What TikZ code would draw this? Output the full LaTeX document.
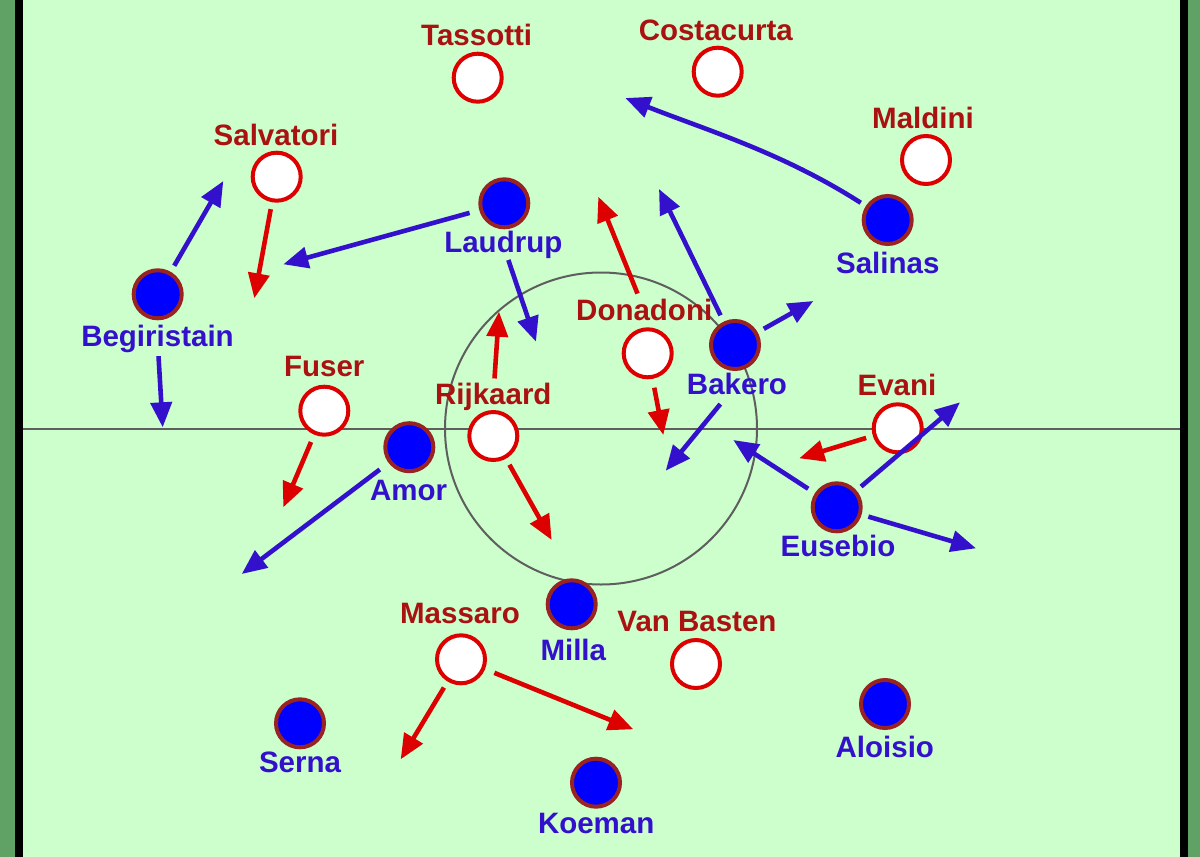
\documentclass[tikz,border=0pt]{standalone}
\usepackage{fontspec}
\setmainfont{Liberation Sans}
\usetikzlibrary{arrows.meta}
\definecolor{field}{HTML}{CCFFCC}
\definecolor{sidegreen}{HTML}{60A266}
\definecolor{midline}{HTML}{5E5E5E}
\definecolor{redstroke}{HTML}{DD0000}
\definecolor{redlabel}{HTML}{AA1111}
\definecolor{bluefill}{HTML}{0000FF}
\definecolor{bluestroke}{HTML}{992222}
\definecolor{bluelabel}{HTML}{3311CC}
\tikzset{
  redp/.style={circle,draw=redstroke,fill=white,line width=4pt,minimum size=48pt,inner sep=0pt},
  bluep/.style={circle,draw=bluestroke,fill=bluefill,line width=4pt,minimum size=48pt,inner sep=0pt},
  lab/.style={anchor=base,inner sep=0pt,font=\fontsize{29.5}{32}\selectfont\bfseries},
  redlab/.style={lab,text=redlabel},
  bluelab/.style={lab,text=bluelabel},
  arr/.style={line width=4.6pt,-{Triangle[length=25pt,width=21pt]},shorten <=7pt},
  rarrow/.style={arr,draw=redstroke},
  barrow/.style={arr,draw=bluelabel},
}
\begin{document}
\begin{tikzpicture}[x=1pt,y=-1pt]
\useasboundingbox (0,0) rectangle (1200,857);
\fill[field] (0,0) rectangle (1200,857);
\fill[sidegreen] (0,0) rectangle (15,857);
\fill[black] (15,0) rectangle (23,857);
\fill[black] (1180,0) rectangle (1188,857);
\fill[sidegreen] (1188,0) rectangle (1200,857);
\draw[midline,line width=2pt] (23,428.5) -- (1180,428.5);
\draw[midline,line width=2pt] (601,428.5) circle[radius=156pt];

% red team
\node[redp] (tas) at (477.7,77.7) {};
\node[redlab] (tasL) at (476.7,45.7) {Tassotti};
\node[redp] (cos) at (717.7,71.7) {};
\node[redlab] (cosL) at (715.8,40.7) {Costacurta};
\node[redp] (salv) at (276.7,176.7) {};
\node[redlab] (salvL) at (276,145.7) {Salvatori};
\node[redp] (mal) at (926,160) {};
\node[redlab] (malL) at (923,128.3) {Maldini};
\node[redp] (don) at (647.7,353.3) {};
\node[redlab] (donL) at (644.2,320.7) {Donadoni};
\node[redp] (fus) at (324.3,410.7) {};
\node[redlab] (fusL) at (324.3,376.7) {Fuser};
\node[redp] (rij) at (493.3,436) {};
\node[redlab] (rijL) at (493.3,404) {Rijkaard};
\node[redp] (eva) at (897.7,428.3) {};
\node[redlab] (evaL) at (897,395) {Evani};
\node[redp] (mas) at (461,659.3) {};
\node[redlab] (masL) at (460,623.3) {Massaro};
\node[redp] (van) at (696,664) {};
\node[redlab] (vanL) at (697,631.7) {Van Basten};

% blue team
\node[bluep] (lau) at (504.3,203.3) {};
\node[bluelab] (lauL) at (503.3,252.7) {Laudrup};
\node[bluep] (beg) at (157.7,294.3) {};
\node[bluelab] (begL) at (157.5,346.7) {Begiristain};
\node[bluep] (sal) at (887.7,220) {};
\node[bluelab] (salL) at (887.8,273.3) {Salinas};
\node[bluep] (bak) at (735,345) {};
\node[bluelab] (bakL) at (737,394.3) {Bakero};
\node[bluep] (amo) at (409.3,447.2) {};
\node[bluelab] (amoL) at (408.7,500) {Amor};
\node[bluep] (eus) at (836.7,507.3) {};
\node[bluelab] (eusL) at (838,556.7) {Eusebio};
\node[bluep] (mil) at (571.7,604.3) {};
\node[bluelab] (milL) at (573.3,660.7) {Milla};
\node[bluep] (ser) at (300,723.3) {};
\node[bluelab] (serL) at (300,772.7) {Serna};
\node[bluep] (alo) at (885,704) {};
\node[bluelab] (aloL) at (884.8,757.3) {Aloisio};
\node[bluep] (koe) at (596,782.7) {};
\node[bluelab] (koeL) at (596.2,833.3) {Koeman};

% arrow end points
\coordinate (tBegUp) at (223.3,181);
\coordinate (tBegDown) at (162.7,427.3);
\coordinate (tSalv) at (254.3,298.3);
\coordinate (tLauLeft) at (283.3,264.3);
\coordinate (tLauDown) at (536,341.7);
\coordinate (tRijUp) at (499,311.7);
\coordinate (tDonUp) at (598.3,196.7);
\coordinate (tDonDown) at (663.3,435);
\coordinate (tBakUp) at (659,189);
\coordinate (tBakRight) at (813.3,301);
\coordinate (tBakDown) at (665.7,470.7);
\coordinate (tSal) at (625.3,98);
\coordinate (tEva) at (799.3,458.3);
\coordinate (tEusUp) at (960,402.3);
\coordinate (tEusRight) at (976,548.3);
\coordinate (tEusLeft) at (733.3,440);
\coordinate (tFus) at (283.3,507.3);
\coordinate (tAmo) at (241.7,574);
\coordinate (tRijDown) at (551.7,540);
\coordinate (tMasLeft) at (400.7,759.3);
\coordinate (tMasRight) at (633.3,729.3);

% red arrows
\draw[rarrow] (salv) -- (tSalv);
\draw[rarrow,shorten <=4pt] (rijL) -- (tRijUp);
\draw[rarrow,shorten <=6pt] (donL) -- (tDonUp);
\draw[rarrow,shorten <=9pt] (don) -- (tDonDown);
\draw[rarrow] (eva) -- (tEva);
\draw[rarrow,shorten <=8pt] (fus) -- (tFus);
\draw[rarrow] (rij) -- (tRijDown);
\draw[rarrow] (mas) -- (tMasLeft);
\draw[rarrow,shorten <=10pt] (mas) -- (tMasRight);

% blue arrows
\draw[barrow] (beg) -- (tBegUp);
\draw[barrow,shorten <=3pt] (begL) -- (tBegDown);
\draw[barrow,shorten <=10pt] (lau) -- (tLauLeft);
\draw[barrow,shorten <=1pt] (lauL) -- (tLauDown);
\draw[barrow] (bak) -- (tBakUp);
\draw[barrow] (bak) -- (tBakRight);
\draw[barrow,shorten <=12pt] (bakL) -- (tBakDown);
\draw[barrow,shorten <=6pt] (sal) .. controls (782,152.4) and (706,130) .. (tSal);
\draw[barrow,shorten <=6pt] (eus) -- (tEusUp);
\draw[barrow] (eus) -- (tEusRight);
\draw[barrow,shorten <=8pt] (eus) -- (tEusLeft);
\draw[barrow,shorten <=11pt] (amo) -- (tAmo);
\end{tikzpicture}
\end{document}
